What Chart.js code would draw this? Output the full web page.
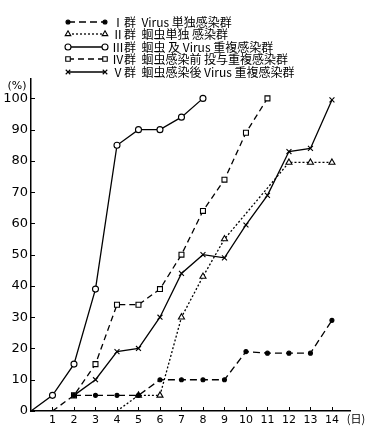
<!DOCTYPE html>
<html>
<head>
<meta charset="utf-8">
<style>
  html, body { margin: 0; padding: 0; background: #fff; }
  #wrap { width: 369px; height: 437px; position: relative; }
</style>
<script src="https://cdn.jsdelivr.net/npm/chart.js"></script>
</head>
<body>
<div id="wrap"><canvas id="grafico"></canvas></div>
<script>
// ticks del eje
const dias = [1, 2, 3, 4, 5, 6, 7, 8, 9, 10, 11, 12, 13, 14];
const ticksPct = [0, 10, 20, 30, 40, 50, 60, 70, 80, 90, 100];

// Ⅰ群 Virus 単独感染群
const diasI = [2, 3, 4, 5, 6, 7, 8, 9, 10, 11, 12, 13, 14];
const valoresI = [5, 5, 5, 5, 10, 10, 10, 10, 19, 18.5, 18.5, 18.5, 29];

// Ⅱ群 蛔虫単独感染群 (empieza en 0 el día 4, sin marca)
const diasII = [4, 5, 6, 7, 8, 9, 12, 13, 14];
const valoresII = [0, 5, 5, 30, 43, 55, 79.5, 79.5, 79.5];

// Ⅲ群 (empieza en el origen)
const diasIII = [0, 1, 2, 3, 4, 5, 6, 7, 8];
const valoresIII = [0, 5, 15, 39, 85, 90, 90, 94, 100];

// Ⅳ群
const diasIV = [1, 2, 3, 4, 5, 6, 7, 8, 9, 10, 11];
const valoresIV = [0, 5, 15, 34, 34, 39, 50, 64, 74, 89, 100];

// Ⅴ群
const diasV = [2, 3, 4, 5, 6, 7, 8, 9, 10, 11, 12, 13, 14];
const valoresV = [5, 10, 19, 20, 30, 44, 50, 49, 59.5, 69, 83, 84, 99.5];

const etiquetas = [
  'Ⅰ群  Virus 単独感染群',
  'Ⅱ群  蛔虫単独 感染群',
  'Ⅲ群  蛔虫 及 Virus 重複感染群',
  'Ⅳ群  蛔虫感染前 投与重複感染群',
  'Ⅴ群  蛔虫感染後 Virus 重複感染群'
];

const juntar = (xs, ys) => xs.map((d, i) => ({ x: d, y: ys[i] }));

// primer punto sin marca cuando la línea sale del eje
const radios = (n, primero, r) => Array.from({ length: n }, (_, i) => i === 0 && primero ? 0 : r);

const datasets = [
  {
    label: etiquetas[0], data: juntar(diasI, valoresI),
    borderDash: [7, 4], pointStyle: 'circle',
    pointRadius: 2, pointBackgroundColor: '#000'
  },
  {
    label: etiquetas[1], data: juntar(diasII, valoresII),
    borderDash: [2, 2], pointStyle: 'triangle',
    pointRadius: radios(diasII.length, true, 3.5), pointBackgroundColor: '#fff'
  },
  {
    label: etiquetas[2], data: juntar(diasIII, valoresIII),
    borderDash: [], pointStyle: 'circle',
    pointRadius: radios(diasIII.length, true, 3), pointBackgroundColor: '#fff'
  },
  {
    label: etiquetas[3], data: juntar(diasIV, valoresIV),
    borderDash: [6, 4], pointStyle: 'rect',
    pointRadius: radios(diasIV.length, true, 3.5), pointBackgroundColor: '#fff'
  },
  {
    label: etiquetas[4], data: juntar(diasV, valoresV),
    borderDash: [], pointStyle: 'crossRot',
    pointRadius: 3.5, pointBackgroundColor: '#fff'
  }
].map(ds => Object.assign({
  borderColor: '#000',
  borderWidth: 1.3,
  pointBorderColor: '#000',
  pointBorderWidth: 1.1,
  tension: 0,
  fill: false
}, ds));

// ticks hacia adentro, textos sueltos y leyenda dibujada a mano
const extras = {
  id: 'extras',
  afterDraw(chart) {
    const { ctx, chartArea, scales: { x, y } } = chart;
    ctx.save();
    ctx.strokeStyle = '#000';
    ctx.lineWidth = 1;
    ctx.setLineDash([]);
    ticksPct.forEach(v => {
      const py = Math.round(y.getPixelForValue(v)) + 0.5;
      ctx.beginPath();
      ctx.moveTo(chartArea.left, py);
      ctx.lineTo(chartArea.left + 4, py);
      ctx.stroke();
    });
    dias.forEach(d => {
      const px = Math.round(x.getPixelForValue(d)) + 0.5;
      ctx.beginPath();
      ctx.moveTo(px, chartArea.bottom);
      ctx.lineTo(px, chartArea.bottom - 4);
      ctx.stroke();
    });

    ctx.fillStyle = '#000';
    ctx.font = '11px "DejaVu Sans"';
    ctx.textAlign = 'center';
    ctx.textBaseline = 'middle';
    ctx.fillText('(%)', 17, 86);
    ctx.font = '11px "Noto Sans CJK JP"';
    ctx.fillText('(日)', 356, 419);

    // leyenda
    const filas = [22, 34, 47, 59, 72];
    chart.data.datasets.forEach((ds, i) => {
      const fy = filas[i];
      ctx.setLineDash(ds.borderDash);
      ctx.lineWidth = ds.borderWidth;
      ctx.beginPath();
      ctx.moveTo(68, fy);
      ctx.lineTo(105, fy);
      ctx.stroke();
      ctx.setLineDash([]);
      const r = ds.pointStyle === 'circle' && i === 0 ? 2 : (ds.pointStyle === 'circle' ? 3 : 3.2);
      [68, 105].forEach(px => {
        ctx.fillStyle = ds.pointBackgroundColor;
        ctx.strokeStyle = '#000';
        ctx.lineWidth = 1.1;
        Chart.helpers.drawPoint(ctx, { pointStyle: ds.pointStyle, radius: r, rotation: 0, borderWidth: 1.1 }, px, fy);
      });
      ctx.fillStyle = '#000';
      ctx.textAlign = 'left';
      ctx.font = '12px "Noto Sans CJK JP"';
      ctx.fillText(ds.label, 112, fy);
    });
    ctx.restore();
  }
};

new Chart(document.getElementById('grafico'), {
  type: 'line',
  data: { datasets: datasets },
  options: {
    responsive: true,
    maintainAspectRatio: false,
    animation: false,
    layout: { padding: { top: 79, right: 19, left: 0, bottom: 0 } },
    plugins: { legend: { display: false }, tooltip: { enabled: false } },
    scales: {
      x: {
        type: 'linear',
        min: 0,
        max: 14.84,
        afterBuildTicks: (scale) => { scale.ticks = dias.map(v => ({ value: v })); },
        afterFit: (scale) => { scale.height = 26; },
        grid: { display: false, drawTicks: false },
        border: { display: true, color: '#000', width: 1.5 },
        ticks: {
          color: '#000', padding: 3, maxRotation: 0, autoSkip: false,
          font: { family: 'DejaVu Sans', size: 11 }
        }
      },
      y: {
        type: 'linear',
        min: 0,
        max: 106.2,
        afterBuildTicks: (scale) => { scale.ticks = ticksPct.map(v => ({ value: v })); },
        afterFit: (scale) => { scale.width = 31; },
        grid: { display: false, drawTicks: false },
        border: { display: true, color: '#000', width: 1.5 },
        ticks: {
          color: '#000', padding: 3, autoSkip: false,
          font: { family: 'DejaVu Sans', size: 13 }
        }
      }
    }
  },
  plugins: [extras]
});
</script>
</body>
</html>
